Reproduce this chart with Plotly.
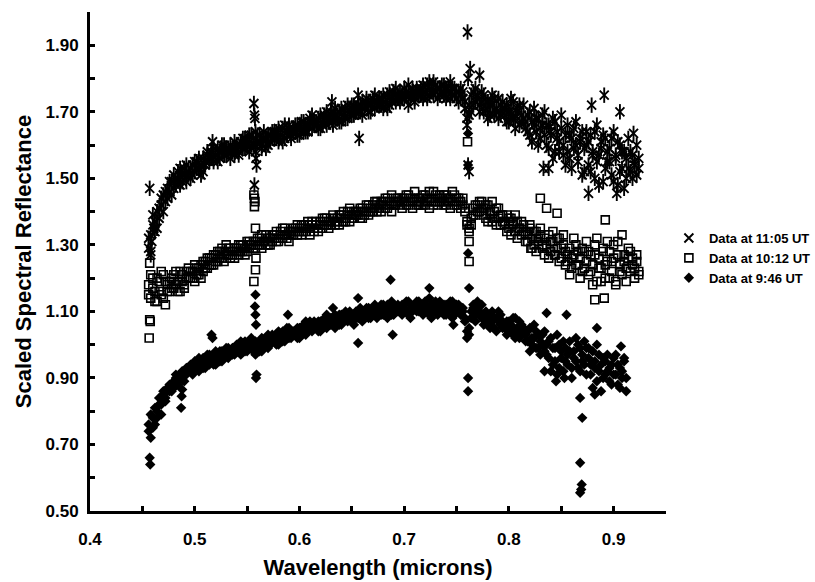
import plotly.graph_objects as go

# Sampling grid of the spectrometer (nm)
wavelength_nm = [
    456, 458, 460, 462, 464, 466, 468, 470, 472, 474,
    476, 478, 480, 482, 484, 486, 488, 490, 492, 494,
    496, 498, 500, 502, 504, 506, 508, 510, 512, 514,
    516, 518, 520, 522, 524, 526, 528, 530, 532, 534,
    536, 538, 540, 542, 544, 546, 548, 550, 552, 554,
    556, 558, 560, 562, 564, 566, 568, 570, 572, 574,
    576, 578, 580, 582, 584, 586, 588, 590, 592, 594,
    596, 598, 600, 602, 604, 606, 608, 610, 612, 614,
    616, 618, 620, 622, 624, 626, 628, 630, 632, 634,
    636, 638, 640, 642, 644, 646, 648, 650, 652, 654,
    656, 658, 660, 662, 664, 666, 668, 670, 672, 674,
    676, 678, 680, 682, 684, 686, 688, 690, 692, 694,
    696, 698, 700, 702, 704, 706, 708, 710, 712, 714,
    716, 718, 720, 722, 724, 726, 728, 730, 732, 734,
    736, 738, 740, 742, 744, 746, 748, 750, 752, 754,
    756, 758, 760, 762, 764, 766, 768, 770, 772, 774,
    776, 778, 780, 782, 784, 786, 788, 790, 792, 794,
    796, 798, 800, 802, 804, 806, 808, 810, 812, 814,
    816, 818, 820, 822, 824, 826, 828, 830, 832, 834,
    836, 838, 840, 842, 844, 846, 848, 850, 852, 854,
    856, 858, 860, 862, 864, 866, 868, 870, 872, 874,
    876, 878, 880, 882, 884, 886, 888, 890, 892, 894,
    896, 898, 900, 902, 904, 906, 908, 910, 912, 914,
    916, 918, 920, 922, 924,
]
wl = [v / 1000 for v in wavelength_nm]

# ---- Data at 11:05 UT (two scan passes over the grid) ----
refl_1105_a = [
    1.29, 1.33, 1.36, 1.34, 1.40, 1.38, 1.42, 1.45, 1.43, 1.47,
    1.46, 1.49, 1.47, 1.50, 1.52, 1.48, 1.51, 1.53, 1.49, 1.52,
    1.50, 1.54, 1.52, 1.55, 1.53, 1.51, 1.56, 1.54, 1.57, 1.55,
    1.58, 1.55, 1.57, 1.59, 1.56, 1.58, 1.60, 1.57, 1.59, 1.56,
    1.59, 1.57, 1.60, 1.58, 1.61, 1.59, 1.62, 1.60, 1.58, 1.63,
    1.60, 1.58, 1.61, 1.63, 1.60, 1.62, 1.59, 1.63, 1.61, 1.64,
    1.62, 1.64, 1.61, 1.63, 1.65, 1.62, 1.64, 1.66, 1.63, 1.65,
    1.64, 1.66, 1.63, 1.65, 1.67, 1.64, 1.66, 1.68, 1.65, 1.67,
    1.66, 1.68, 1.65, 1.67, 1.69, 1.66, 1.68, 1.70, 1.67, 1.69,
    1.68, 1.70, 1.67, 1.69, 1.71, 1.68, 1.70, 1.72, 1.69, 1.71,
    1.70, 1.72, 1.69, 1.71, 1.73, 1.70, 1.72, 1.74, 1.71, 1.73,
    1.72, 1.74, 1.71, 1.73, 1.75, 1.72, 1.74, 1.76, 1.73, 1.75,
    1.73, 1.75, 1.74, 1.76, 1.72, 1.75, 1.77, 1.74, 1.76, 1.75,
    1.77, 1.74, 1.76, 1.78, 1.75, 1.77, 1.79, 1.76, 1.74, 1.77,
    1.78, 1.75, 1.77, 1.76, 1.74, 1.77, 1.75, 1.76, 1.73, 1.75,
    1.74, 1.71, 1.66, 1.69, 1.75, 1.72, 1.77, 1.74, 1.70, 1.73,
    1.75, 1.71, 1.73, 1.69, 1.72, 1.74, 1.70, 1.68, 1.72, 1.71,
    1.69, 1.72, 1.67, 1.70, 1.73, 1.68, 1.71, 1.66, 1.69, 1.72,
    1.65, 1.69, 1.63, 1.67, 1.71, 1.64, 1.68, 1.62, 1.66, 1.70,
    1.60, 1.66, 1.63, 1.68, 1.58, 1.64, 1.61, 1.69, 1.57, 1.63,
    1.66, 1.56, 1.62, 1.59, 1.67, 1.55, 1.61, 1.64, 1.52, 1.60,
    1.54, 1.63, 1.58, 1.50, 1.66, 1.57, 1.61, 1.49, 1.62, 1.55,
    1.59, 1.51, 1.64, 1.56, 1.48, 1.60, 1.53, 1.58, 1.50, 1.62,
    1.52, 1.57, 1.54, 1.51, 1.56,
]
refl_1105_b = [
    1.32, 1.28, 1.39, 1.37, 1.35, 1.41, 1.44, 1.40, 1.46, 1.44,
    1.49, 1.45, 1.51, 1.48, 1.50, 1.53, 1.49, 1.51, 1.54, 1.51,
    1.53, 1.51, 1.55, 1.53, 1.56, 1.54, 1.52, 1.55, 1.58, 1.56,
    1.56, 1.59, 1.57, 1.55, 1.58, 1.60, 1.57, 1.59, 1.58, 1.60,
    1.58, 1.61, 1.59, 1.57, 1.60, 1.62, 1.59, 1.61, 1.63, 1.60,
    1.62, 1.60, 1.63, 1.61, 1.59, 1.64, 1.62, 1.60, 1.63, 1.62,
    1.64, 1.62, 1.65, 1.63, 1.61, 1.66, 1.63, 1.65, 1.62, 1.64,
    1.66, 1.63, 1.65, 1.67, 1.64, 1.66, 1.64, 1.67, 1.69, 1.66,
    1.67, 1.65, 1.69, 1.66, 1.68, 1.70, 1.67, 1.69, 1.66, 1.71,
    1.69, 1.67, 1.71, 1.69, 1.68, 1.72, 1.70, 1.69, 1.72, 1.70,
    1.72, 1.70, 1.73, 1.71, 1.74, 1.72, 1.70, 1.73, 1.75, 1.72,
    1.74, 1.72, 1.75, 1.73, 1.71, 1.76, 1.73, 1.75, 1.77, 1.74,
    1.76, 1.74, 1.77, 1.75, 1.78, 1.74, 1.76, 1.73, 1.77, 1.76,
    1.75, 1.78, 1.76, 1.74, 1.79, 1.76, 1.75, 1.78, 1.77, 1.75,
    1.76, 1.78, 1.74, 1.77, 1.79, 1.75, 1.77, 1.74, 1.76, 1.77,
    1.76, 1.73, 1.68, 1.72, 1.70, 1.76, 1.73, 1.75, 1.72, 1.76,
    1.70, 1.73, 1.68, 1.72, 1.75, 1.69, 1.71, 1.74, 1.69, 1.73,
    1.71, 1.67, 1.70, 1.74, 1.68, 1.65, 1.70, 1.72, 1.67, 1.68,
    1.67, 1.64, 1.70, 1.61, 1.66, 1.68, 1.60, 1.65, 1.69, 1.63,
    1.66, 1.59, 1.64, 1.56, 1.67, 1.62, 1.58, 1.65, 1.60, 1.54,
    1.58, 1.63, 1.53, 1.65, 1.60, 1.57, 1.62, 1.51, 1.59, 1.64,
    1.61, 1.52, 1.57, 1.64, 1.55, 1.48, 1.59, 1.63, 1.53, 1.58,
    1.55, 1.62, 1.49, 1.57, 1.61, 1.52, 1.58, 1.47, 1.56, 1.53,
    1.58, 1.50, 1.55, 1.60, 1.53,
]
odd_wl_1105 = [0.457, 0.458, 0.459, 0.461, 0.517, 0.5565, 0.557, 0.5575, 0.558,
               0.5585, 0.559, 0.557, 0.631, 0.656, 0.657, 0.7605, 0.763, 0.772,
               0.761, 0.761, 0.762, 0.833, 0.838, 0.876, 0.903, 0.891, 0.879,
               0.906, 0.919]
odd_1105 = [1.47, 1.27, 1.31, 1.35, 1.61, 1.725, 1.69, 1.68, 1.64,
            1.56, 1.54, 1.48, 1.73, 1.75, 1.62, 1.94, 1.83, 1.81,
            1.80, 1.54, 1.52, 1.53, 1.53, 1.455, 1.455, 1.75, 1.72,
            1.70, 1.635]

# ---- Data at 10:12 UT ----
refl_1012_a = [
    1.18, 1.14, 1.20, 1.16, 1.13, 1.19, 1.15, 1.21, 1.12, 1.18,
    1.16, 1.20, 1.17, 1.22, 1.19, 1.16, 1.21, 1.18, 1.20, 1.23,
    1.20, 1.22, 1.19, 1.23, 1.21, 1.24, 1.22, 1.25, 1.23, 1.26,
    1.24, 1.27, 1.25, 1.28, 1.26, 1.29, 1.25, 1.27, 1.29, 1.26,
    1.28, 1.26, 1.29, 1.27, 1.30, 1.28, 1.27, 1.31, 1.29, 1.30,
    1.29, 1.31, 1.30, 1.32, 1.29, 1.31, 1.33, 1.30, 1.32, 1.31,
    1.33, 1.31, 1.32, 1.34, 1.32, 1.35, 1.33, 1.31, 1.34, 1.33,
    1.35, 1.33, 1.34, 1.36, 1.34, 1.35, 1.37, 1.33, 1.36, 1.35,
    1.36, 1.34, 1.37, 1.35, 1.38, 1.36, 1.35, 1.37, 1.39, 1.36,
    1.38, 1.36, 1.39, 1.37, 1.38, 1.40, 1.37, 1.39, 1.38, 1.40,
    1.39, 1.41, 1.38, 1.40, 1.42, 1.39, 1.41, 1.40, 1.43, 1.40,
    1.42, 1.40, 1.43, 1.41, 1.44, 1.42, 1.40, 1.43, 1.42, 1.44,
    1.43, 1.41, 1.44, 1.42, 1.45, 1.43, 1.41, 1.44, 1.43, 1.42,
    1.44, 1.42, 1.45, 1.43, 1.41, 1.44, 1.46, 1.43, 1.42, 1.45,
    1.43, 1.45, 1.42, 1.44, 1.41, 1.43, 1.45, 1.42, 1.44, 1.43,
    1.42, 1.40, 1.36, 1.35, 1.38, 1.41, 1.39, 1.42, 1.40, 1.43,
    1.41, 1.38, 1.42, 1.39, 1.37, 1.40, 1.41, 1.38, 1.36, 1.39,
    1.37, 1.39, 1.35, 1.38, 1.36, 1.34, 1.37, 1.35, 1.33, 1.36,
    1.34, 1.31, 1.35, 1.32, 1.30, 1.34, 1.31, 1.33, 1.29, 1.32,
    1.30, 1.33, 1.28, 1.31, 1.27, 1.29, 1.32, 1.26, 1.30, 1.28,
    1.25, 1.29, 1.23, 1.27, 1.30, 1.24, 1.26, 1.22, 1.28, 1.25,
    1.21, 1.27, 1.24, 1.30, 1.19, 1.26, 1.23, 1.29, 1.20, 1.25,
    1.28, 1.22, 1.26, 1.19, 1.31, 1.24, 1.21, 1.27, 1.23, 1.29,
    1.22, 1.26, 1.23, 1.27, 1.21,
]
refl_1012_b = [
    1.15, 1.21, 1.17, 1.13, 1.20, 1.16, 1.22, 1.14, 1.19, 1.16,
    1.19, 1.17, 1.21, 1.18, 1.16, 1.22, 1.19, 1.17, 1.22, 1.20,
    1.22, 1.20, 1.24, 1.21, 1.23, 1.20, 1.25, 1.23, 1.26, 1.24,
    1.26, 1.24, 1.27, 1.25, 1.28, 1.26, 1.28, 1.30, 1.27, 1.29,
    1.27, 1.29, 1.28, 1.30, 1.28, 1.30, 1.29, 1.28, 1.31, 1.30,
    1.31, 1.29, 1.32, 1.30, 1.33, 1.31, 1.30, 1.32, 1.30, 1.33,
    1.32, 1.34, 1.31, 1.33, 1.35, 1.33, 1.32, 1.34, 1.33, 1.35,
    1.34, 1.36, 1.35, 1.33, 1.36, 1.34, 1.36, 1.35, 1.37, 1.34,
    1.37, 1.35, 1.36, 1.38, 1.36, 1.38, 1.37, 1.36, 1.38, 1.37,
    1.37, 1.39, 1.38, 1.40, 1.37, 1.39, 1.41, 1.38, 1.40, 1.39,
    1.40, 1.38, 1.41, 1.39, 1.40, 1.42, 1.40, 1.42, 1.41, 1.43,
    1.41, 1.43, 1.42, 1.44, 1.41, 1.43, 1.45, 1.42, 1.44, 1.43,
    1.42, 1.44, 1.43, 1.45, 1.42, 1.44, 1.43, 1.46, 1.42, 1.44,
    1.43, 1.45, 1.42, 1.44, 1.46, 1.43, 1.42, 1.45, 1.44, 1.43,
    1.44, 1.42, 1.45, 1.43, 1.44, 1.46, 1.42, 1.44, 1.43, 1.41,
    1.44, 1.41, 1.37, 1.34, 1.36, 1.39, 1.42, 1.40, 1.43, 1.41,
    1.39, 1.42, 1.37, 1.40, 1.43, 1.38, 1.36, 1.41, 1.39, 1.37,
    1.36, 1.34, 1.38, 1.33, 1.37, 1.39, 1.32, 1.35, 1.37, 1.34,
    1.31, 1.33, 1.36, 1.29, 1.34, 1.28, 1.32, 1.35, 1.30, 1.27,
    1.29, 1.26, 1.31, 1.34, 1.27, 1.32, 1.25, 1.29, 1.33, 1.24,
    1.27, 1.21, 1.26, 1.32, 1.24, 1.28, 1.20, 1.29, 1.23, 1.31,
    1.28, 1.22, 1.18, 1.27, 1.32, 1.23, 1.19, 1.28, 1.24, 1.31,
    1.20, 1.25, 1.30, 1.18, 1.27, 1.22, 1.33, 1.25, 1.19, 1.26,
    1.28, 1.24, 1.20, 1.25, 1.22,
]
odd_wl_1012 = [0.4565, 0.457, 0.4575, 0.457, 0.5565, 0.557, 0.5575, 0.557,
               0.558, 0.5585, 0.558, 0.5565, 0.7605, 0.762, 0.762, 0.830,
               0.836, 0.846, 0.892, 0.821, 0.882, 0.891]
odd_1012 = [1.02, 1.075, 1.07, 1.245, 1.45, 1.44, 1.43, 1.415,
            1.35, 1.26, 1.225, 1.19, 1.61, 1.31, 1.25, 1.44,
            1.41, 1.395, 1.375, 1.29, 1.135, 1.14]

# ---- Data at 9:46 UT (record stops at 0.912 um) ----
refl_0946_a = [
    0.74, 0.72, 0.78, 0.76, 0.80, 0.82, 0.79, 0.85, 0.83, 0.87,
    0.86, 0.88, 0.87, 0.90, 0.89, 0.91, 0.90, 0.92, 0.91, 0.93,
    0.92, 0.94, 0.93, 0.95, 0.92, 0.94, 0.96, 0.93, 0.95, 0.97,
    0.95, 0.97, 0.94, 0.96, 0.98, 0.95, 0.97, 0.99, 0.96, 0.98,
    0.97, 0.99, 0.98, 1.00, 0.97, 0.99, 1.01, 0.98, 1.00, 1.02,
    1.00, 0.97, 0.99, 1.01, 0.98, 1.00, 1.02, 0.99, 1.01, 1.03,
    1.01, 1.03, 1.00, 1.02, 1.04, 1.01, 1.03, 1.05, 1.02, 1.04,
    1.03, 1.05, 1.02, 1.04, 1.06, 1.03, 1.05, 1.07, 1.04, 1.06,
    1.05, 1.07, 1.04, 1.06, 1.08, 1.05, 1.07, 1.06, 1.08, 1.05,
    1.07, 1.09, 1.06, 1.08, 1.10, 1.07, 1.09, 1.08, 1.06, 1.10,
    1.08, 1.10, 1.07, 1.09, 1.11, 1.08, 1.10, 1.09, 1.12, 1.08,
    1.10, 1.12, 1.09, 1.11, 1.08, 1.10, 1.13, 1.09, 1.11, 1.10,
    1.11, 1.09, 1.12, 1.10, 1.13, 1.08, 1.11, 1.12, 1.10, 1.13,
    1.11, 1.09, 1.12, 1.10, 1.14, 1.08, 1.11, 1.13, 1.09, 1.12,
    1.10, 1.12, 1.09, 1.11, 1.13, 1.08, 1.11, 1.10, 1.12, 1.09,
    1.10, 1.07, 1.02, 1.05, 1.08, 1.11, 1.09, 1.13, 1.10, 1.12,
    1.08, 1.10, 1.06, 1.09, 1.07, 1.05, 1.08, 1.10, 1.06, 1.07,
    1.05, 1.07, 1.04, 1.06, 1.03, 1.08, 1.05, 1.02, 1.06, 1.04,
    1.03, 1.01, 1.05, 1.00, 1.02, 1.04, 0.99, 1.01, 1.03, 0.98,
    1.00, 0.96, 1.02, 0.94, 0.99, 1.03, 0.93, 0.98, 1.01, 0.95,
    0.97, 1.01, 0.93, 0.98, 0.95, 1.00, 0.92, 0.97, 0.94, 0.99,
    0.96, 0.91, 0.98, 0.93, 0.89, 0.97, 0.94, 0.90, 0.95, 0.92,
    0.93, 0.88, 0.96, 0.91, 0.94, 0.87, 0.92, 0.95, 0.90,
]
refl_0946_b = [
    0.76, 0.79, 0.75, 0.81, 0.78, 0.84, 0.82, 0.86, 0.84, 0.86,
    0.88, 0.86, 0.89, 0.91, 0.88, 0.90, 0.92, 0.89, 0.93, 0.92,
    0.94, 0.91, 0.95, 0.93, 0.96, 0.94, 0.93, 0.95, 0.97, 0.94,
    0.96, 0.94, 0.98, 0.97, 0.95, 0.98, 0.96, 0.98, 0.99, 0.97,
    0.99, 0.97, 1.00, 0.98, 1.01, 0.99, 0.98, 1.00, 0.99, 1.01,
    0.98, 1.01, 1.00, 0.98, 1.02, 0.99, 1.01, 1.03, 1.00, 1.02,
    1.02, 1.00, 1.04, 1.03, 1.01, 1.03, 1.05, 1.02, 1.04, 1.03,
    1.04, 1.02, 1.05, 1.03, 1.05, 1.07, 1.04, 1.06, 1.05, 1.07,
    1.06, 1.04, 1.07, 1.05, 1.07, 1.09, 1.06, 1.08, 1.07, 1.09,
    1.08, 1.06, 1.09, 1.07, 1.09, 1.08, 1.10, 1.07, 1.09, 1.08,
    1.09, 1.11, 1.08, 1.10, 1.09, 1.11, 1.08, 1.10, 1.11, 1.09,
    1.11, 1.09, 1.12, 1.10, 1.12, 1.11, 1.09, 1.12, 1.10, 1.12,
    1.10, 1.12, 1.11, 1.13, 1.09, 1.12, 1.10, 1.11, 1.13, 1.10,
    1.12, 1.10, 1.13, 1.11, 1.09, 1.12, 1.10, 1.12, 1.11, 1.13,
    1.11, 1.09, 1.12, 1.10, 1.11, 1.13, 1.09, 1.12, 1.10, 1.11,
    1.11, 1.08, 1.04, 1.03, 1.10, 1.12, 1.07, 1.11, 1.09, 1.08,
    1.06, 1.09, 1.07, 1.05, 1.10, 1.08, 1.04, 1.07, 1.09, 1.05,
    1.06, 1.03, 1.07, 1.05, 1.08, 1.02, 1.04, 1.07, 1.03, 1.05,
    1.01, 1.04, 0.98, 1.02, 1.06, 0.99, 1.03, 0.97, 1.00, 1.04,
    0.97, 1.01, 0.92, 0.99, 0.95, 0.91, 1.00, 0.96, 0.92, 0.99,
    0.94, 0.98, 0.90, 0.96, 1.02, 0.93, 0.99, 0.95, 1.01, 0.91,
    0.99, 0.94, 0.87, 0.95, 1.00, 0.92, 0.86, 0.96, 0.91, 0.97,
    0.89, 0.94, 0.91, 0.97, 0.88, 0.93, 0.90, 0.96, 0.86,
]
odd_wl_0946 = [0.457, 0.4575, 0.487, 0.4875, 0.488, 0.516, 0.517, 0.558,
               0.5575, 0.558, 0.5585, 0.559, 0.5585, 0.589, 0.632, 0.656,
               0.656, 0.687, 0.724, 0.689, 0.747, 0.761, 0.761, 0.761,
               0.762, 0.761, 0.761, 0.836, 0.855, 0.845, 0.853, 0.834,
               0.907, 0.884, 0.882, 0.868, 0.870, 0.868, 0.8695, 0.869,
               0.868]
odd_0946 = [0.66, 0.64, 0.81, 0.845, 0.865, 1.03, 1.02, 1.15,
            1.115, 1.09, 1.06, 0.91, 0.90, 1.09, 1.11, 1.14,
            1.005, 1.195, 1.17, 1.03, 1.06, 1.635, 1.54, 1.275,
            1.17, 0.90, 0.86, 1.095, 1.09, 0.89, 0.90, 0.92,
            0.995, 1.05, 0.85, 0.84, 0.78, 0.645, 0.58, 0.565,
            0.555]

series_names = ["Data at 11:05 UT", "Data at 10:12 UT", "Data at 9:46 UT"]

x_ticks = [0.4, 0.5, 0.6, 0.7, 0.8, 0.9]
y_ticks = [0.5, 0.7, 0.9, 1.1, 1.3, 1.5, 1.7, 1.9]


def assemble(pass_a, pass_b, odd_wl, odd_val):
    x = wl[:len(pass_a)] + wl[:len(pass_b)] + odd_wl
    y = pass_a + pass_b + odd_val
    return x, y


FONT = "Liberation Sans, Arial, sans-serif"

x1105, y1105 = assemble(refl_1105_a, refl_1105_b, odd_wl_1105, odd_1105)
x1012, y1012 = assemble(refl_1012_a, refl_1012_b, odd_wl_1012, odd_1012)
x0946, y0946 = assemble(refl_0946_a, refl_0946_b, odd_wl_0946, odd_0946)

fig = go.Figure()

# six-armed star marker: an X with a vertical stroke through it
fig.add_trace(go.Scatter(
    x=x1105, y=y1105, mode="markers", name=series_names[0],
    legendgroup="s1105",
    marker=dict(symbol="x-thin-open", size=9, color="black",
                line=dict(width=1.9, color="black")),
))
fig.add_trace(go.Scatter(
    x=x1105, y=y1105, mode="markers", name=series_names[0],
    legendgroup="s1105", showlegend=False,
    marker=dict(symbol="line-ns-open", size=11, color="black",
                line=dict(width=1.9, color="black")),
))
fig.add_trace(go.Scatter(
    x=x1012, y=y1012, mode="markers", name=series_names[1],
    marker=dict(symbol="square-open", size=8, color="black",
                line=dict(width=1.6, color="black")),
))
fig.add_trace(go.Scatter(
    x=x0946, y=y0946, mode="markers", name=series_names[2],
    marker=dict(symbol="diamond", size=8, color="black",
                line=dict(width=0)),
))

axis_common = dict(
    showline=True, linecolor="black", linewidth=3,
    showgrid=False, zeroline=False,
    ticks="inside", ticklen=5, tickwidth=3, tickcolor="black",
    tickfont=dict(family=FONT, size=17, color="black", weight="bold"),
)

fig.update_xaxes(
    range=[0.4, 0.95], tickvals=x_ticks, tickformat=".1f",
    minor=dict(dtick=0.05, tick0=0.4, ticks="inside", ticklen=5,
               tickwidth=3, tickcolor="black"),
    title=dict(text="Wavelength (microns)", standoff=12,
               font=dict(family=FONT, size=22, color="black", weight="bold")),
    ticklabelstandoff=11,
    **axis_common,
)
fig.update_yaxes(
    range=[0.5, 2.0], tickvals=y_ticks, tickformat=".2f",
    minor=dict(dtick=0.1, tick0=0.5, ticks="inside", ticklen=5,
               tickwidth=3, tickcolor="black"),
    title=dict(text="Scaled Spectral Reflectance", standoff=8,
               font=dict(family=FONT, size=22, color="black", weight="bold")),
    ticklabelstandoff=5,
    **axis_common,
)

fig.update_layout(
    width=815, height=582,
    margin=dict(l=90, r=149, t=12, b=71, autoexpand=False),
    paper_bgcolor="white", plot_bgcolor="white",
    showlegend=True,
    legend=dict(x=1.005, xanchor="left", y=0.507, yanchor="middle",
                font=dict(family=FONT, size=13, color="black", weight="bold"),
                itemwidth=30, bgcolor="rgba(0,0,0,0)", tracegroupgap=0),
)

fig.write_html("out.html")
